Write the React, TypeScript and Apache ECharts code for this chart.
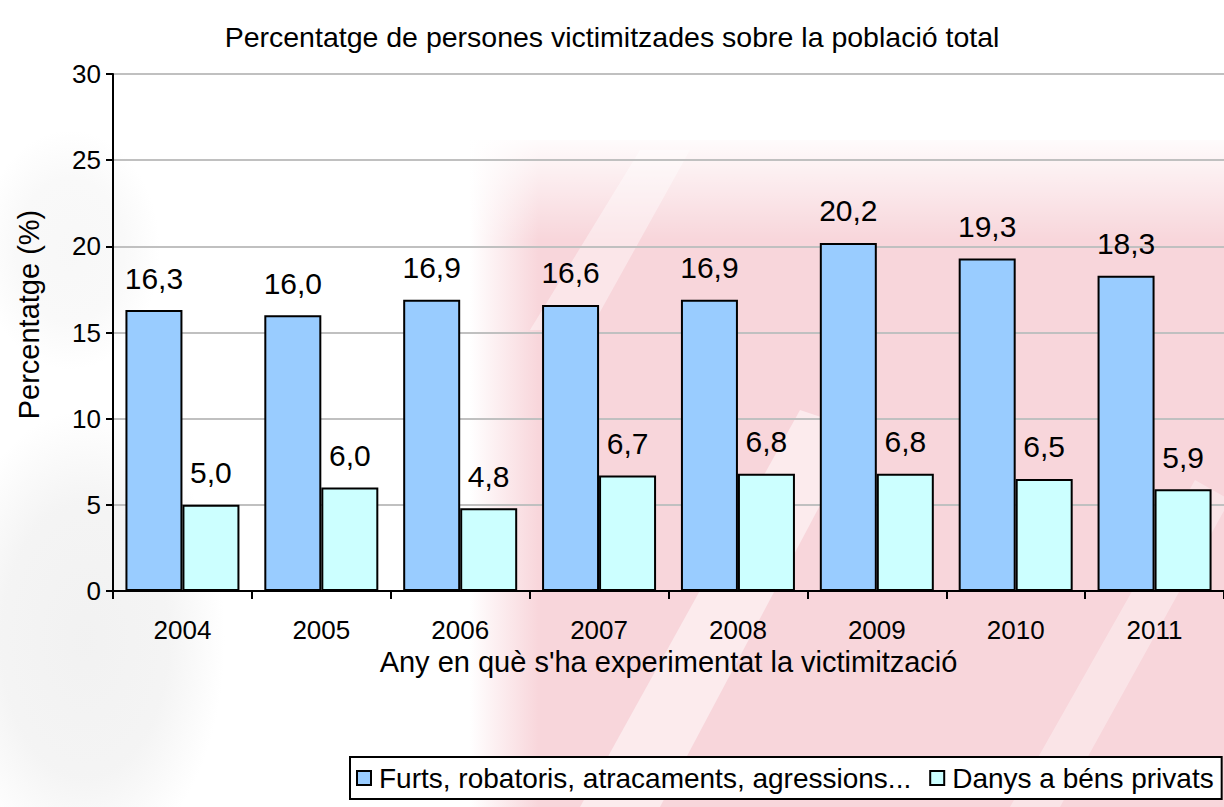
import React, { useEffect, useRef } from "react";
import * as echarts from "echarts";

const years = ["2004", "2005", "2006", "2007", "2008", "2009", "2010", "2011"];
const furts = [16.3, 16.0, 16.9, 16.6, 16.9, 20.2, 19.3, 18.3];
const danys = [5.0, 6.0, 4.8, 6.7, 6.8, 6.8, 6.5, 5.9];
const seriesNames = ["Furts, robatoris, atracaments, agressions...", "Danys a béns privats"];
const yTicks = [0, 5, 10, 15, 20, 25, 30];

const FONT = "'Liberation Sans', Arial, sans-serif";

export default function App() {
  const ref = useRef<HTMLDivElement>(null);
  useEffect(() => {
    if (!ref.current) return;
    const chart = echarts.init(ref.current, null, { renderer: "svg" });
    const fmt = (p: any) => Number(p.value).toFixed(1).replace(".", ",");
    const pink = "#f8d6db";
    const LG = echarts.graphic.LinearGradient;
    const RG = echarts.graphic.RadialGradient;
    const greyBlob = (a: number) =>
      new RG(0.5, 0.5, 0.5, [
        { offset: 0, color: `rgba(225,225,225,${a})` },
        { offset: 0.6, color: `rgba(225,225,225,${a * 0.8})` },
        { offset: 1, color: "rgba(225,225,225,0)" },
      ]);
    chart.setOption({
      animation: false,
      backgroundColor: "#ffffff",
      textStyle: { fontFamily: FONT, color: "#000" },
      graphic: [
        {
          type: "group",
          silent: true,
          z: -10,
          children: [
            { type: "ellipse", z: -10, shape: { cx: 85, cy: 640, rx: 140, ry: 230 }, style: { fill: greyBlob(0.45) } },
            { type: "ellipse", z: -10, shape: { cx: 70, cy: 250, rx: 90, ry: 120 }, style: { fill: greyBlob(0.25) } },
            {
              type: "rect", z: -10, shape: { x: 470, y: 140, width: 760, height: 670 },
              style: { fill: new LG(0, 0, 1, 0, [{ offset: 0, color: "rgba(248,214,219,0)" }, { offset: 0.09, color: pink }, { offset: 1, color: pink }]) },
            },
            {
              type: "rect", z: -9, shape: { x: 470, y: 130, width: 760, height: 110 },
              style: { fill: new LG(0, 0, 0, 1, [{ offset: 0, color: "rgba(255,255,255,1)" }, { offset: 1, color: "rgba(255,255,255,0)" }]) },
            },
            { type: "polygon", z: -9, shape: { points: [[580, 807], [660, 807], [860, 430], [800, 410]] }, style: { fill: "rgba(255,255,255,0.5)" } },
            { type: "polygon", z: -9, shape: { points: [[530, 330], [590, 330], [690, 150], [640, 150]] }, style: { fill: "rgba(255,255,255,0.4)" } },
            { type: "polygon", z: -9, shape: { points: [[1010, 807], [1060, 807], [1230, 500], [1195, 480]] }, style: { fill: "rgba(255,255,255,0.35)" } },
          ],
        },
      ],
      title: {
        text: "Percentatge de persones victimitzades sobre la població total",
        left: "center",
        top: 17,
        textStyle: { fontFamily: FONT, fontSize: 28.5, fontWeight: "normal", color: "#000" },
      },
      grid: { left: 113, top: 74, width: 1124, height: 517 },
      legend: {
        left: 350,
        top: 757,
        orient: "horizontal",
        itemWidth: 14,
        itemHeight: 14,
        itemGap: 18,
        padding: [7, 8, 7, 6],
        borderColor: "#000",
        borderWidth: 2,
        backgroundColor: "#fff",
        icon: "rect",
        textStyle: { fontFamily: FONT, fontSize: 28, color: "#000", padding: [0, 0, 0, 3] },
        data: seriesNames,
      },
      xAxis: {
        type: "category",
        data: years,
        name: "Any en què s'ha experimentat la victimització",
        nameLocation: "middle",
        nameGap: 56,
        nameTextStyle: { fontFamily: FONT, fontSize: 29, color: "#000" },
        axisLine: { lineStyle: { color: "#000", width: 2 } },
        axisTick: { show: true, length: 8, lineStyle: { color: "#000", width: 2 } },
        axisLabel: { fontFamily: FONT, fontSize: 26, color: "#000", margin: 26 },
      },
      yAxis: {
        type: "value",
        min: yTicks[0],
        max: yTicks[yTicks.length - 1],
        interval: 5,
        name: "Percentatge (%)",
        nameLocation: "middle",
        nameGap: 70,
        nameTextStyle: { fontFamily: FONT, fontSize: 29, color: "#000", padding: [0, 0, 0, 36] },
        axisLine: { show: true, lineStyle: { color: "#000", width: 2 } },
        axisTick: { show: true, length: 7, lineStyle: { color: "#000", width: 2 } },
        axisLabel: { fontFamily: FONT, fontSize: 26, color: "#000", margin: 12 },
        splitLine: { lineStyle: { color: "#c0c0c0", width: 2 } },
      },
      series: [
        {
          name: seriesNames[0],
          type: "bar",
          data: furts,
          barWidth: 57,
          barGap: "0%",
          itemStyle: { color: "#99ccff", borderColor: "#000", borderWidth: 2 },
          label: { show: true, position: "top", distance: 17, formatter: fmt, fontFamily: FONT, fontSize: 30, color: "#000" },
        },
        {
          name: seriesNames[1],
          type: "bar",
          data: danys,
          barWidth: 57,
          barGap: "0%",
          itemStyle: { color: "#ccffff", borderColor: "#000", borderWidth: 2 },
          label: { show: true, position: "top", distance: 17, formatter: fmt, fontFamily: FONT, fontSize: 30, color: "#000" },
        },
      ],
    });
    return () => chart.dispose();
  }, []);
  return <div ref={ref} style={{ width: 1224, height: 807, position: "absolute", left: 0, top: 0 }} />;
}
